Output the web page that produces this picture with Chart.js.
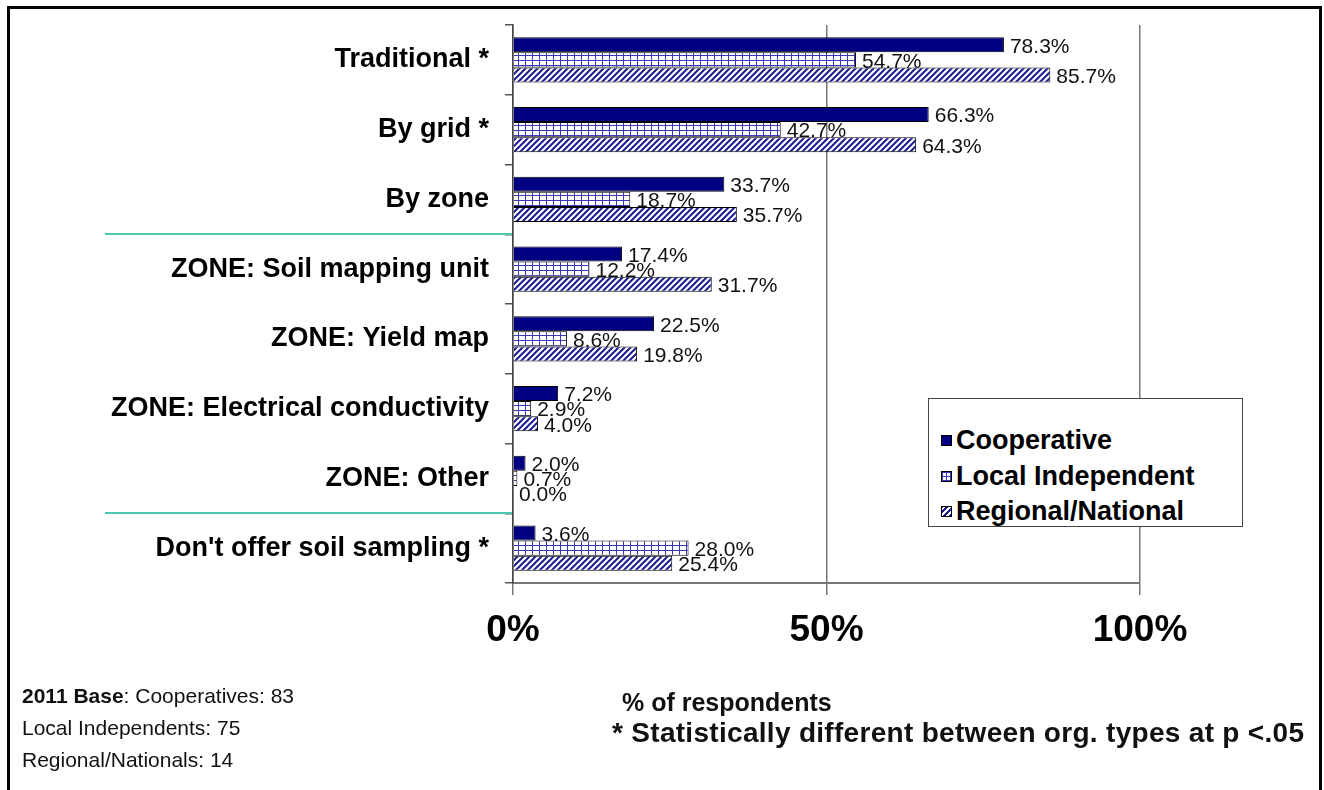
<!DOCTYPE html>
<html>
<head>
<meta charset="utf-8">
<script src="https://cdn.jsdelivr.net/npm/chart.js@4.4.1/dist/chart.umd.min.js"></script>
<style>
  html, body { margin: 0; padding: 0; background: #fff; }
  body { width: 1324px; height: 790px; position: relative; overflow: hidden; font-family: 'Liberation Sans', Arial, sans-serif; }
  #frame { position: absolute; left: 7px; top: 6px; width: 1315px; height: 900px; border: 3px solid #000; box-sizing: border-box; }
  #wrap { position: absolute; left: 0; top: 0; width: 1324px; height: 790px; }
  .note { position: absolute; color: #111; white-space: nowrap; }
  #legend { position: absolute; left: 928px; top: 398px; width: 315px; height: 129px; border: 1px solid #444; background: #fff; box-sizing: border-box; }
  .lg { position: absolute; left: 12px; font-weight: bold; font-size: 27px; color: #000; display: flex; align-items: center; line-height: 30px; }
  .sw { width: 11px; height: 11px; border: 1px solid #000; margin-right: 4px; box-sizing: border-box; }
</style>
</head>
<body>
<div id="frame"></div>
<div id="wrap"><canvas id="c" width="1324" height="790"></canvas></div>

<div id="legend">
  <div class="lg" style="top:26px"><span class="sw" style="background:#000080"></span>Cooperative</div>
  <div class="lg" style="top:62px"><span class="sw" id="swLocal"></span>Local Independent</div>
  <div class="lg" style="top:97px"><span class="sw" id="swReg"></span>Regional/National</div>
</div>

<div class="note" style="left:22px; top:684px; font-size:21px;"><b>2011 Base</b>: Cooperatives: 83</div>
<div class="note" style="left:22px; top:716px; font-size:21px;">Local Independents: 75</div>
<div class="note" style="left:22px; top:748px; font-size:21px;">Regional/Nationals: 14</div>
<div class="note" style="left:622px; top:688px; font-size:25px; font-weight:bold;">% of respondents</div>
<div class="note" style="left:612px; top:717px; font-size:28px; font-weight:bold; letter-spacing:0.3px;">* Statistically different between org. types at p &lt;.05</div>

<script>
// dữ liệu
const categories = [
  'Traditional *',
  'By grid *',
  'By zone',
  'ZONE: Soil mapping unit',
  'ZONE: Yield map',
  'ZONE: Electrical conductivity',
  'ZONE: Other',
  "Don't offer soil sampling *"
];
const cooperative      = [78.3, 66.3, 33.7, 17.4, 22.5, 7.2, 2.0, 3.6];
const localIndependent = [54.7, 42.7, 18.7, 12.2, 8.6, 2.9, 0.7, 28.0];
const regionalNational = [85.7, 64.3, 35.7, 31.7, 19.8, 4.0, 0.0, 25.4];
const xTicks = [0, 50, 100];
// ranh giới nhóm có đường kẻ xanh ngọc (sau danh mục thứ 3 và thứ 7)
const separatorAfter = [2, 6];

const FONT = "'Liberation Sans', Arial, sans-serif";

// mẫu ô lưới cho Local Independent
function makeGridPattern(ctx) {
  const p = document.createElement('canvas');
  p.width = 7; p.height = 5;
  const g = p.getContext('2d');
  g.fillStyle = '#fff'; g.fillRect(0, 0, 7, 5);
  g.fillStyle = '#3a3ab8';
  g.fillRect(0, 0, 1, 5);
  g.fillRect(0, 0, 7, 1);
  return ctx.createPattern(p, 'repeat');
}

// mẫu gạch chéo cho Regional/National
function makeHatchPattern(ctx) {
  const p = document.createElement('canvas');
  p.width = 6; p.height = 6;
  const g = p.getContext('2d');
  g.fillStyle = '#fff'; g.fillRect(0, 0, 6, 6);
  g.strokeStyle = '#1c1c90';
  g.lineWidth = 2;
  g.beginPath();
  g.moveTo(0, 6); g.lineTo(6, 0);
  g.moveTo(-1, 1); g.lineTo(1, -1);
  g.moveTo(5, 7); g.lineTo(7, 5);
  g.stroke();
  return ctx.createPattern(p, 'repeat');
}

const canvasElement = document.getElementById('c');
const ctx = canvasElement.getContext('2d');

// ô mẫu trong chú giải
document.getElementById('swLocal').style.background =
  'repeating-linear-gradient(90deg,#3a3ab8 0 1px,transparent 1px 4px), repeating-linear-gradient(0deg,#3a3ab8 0 1px,#fff 1px 4px)';
document.getElementById('swReg').style.background =
  'repeating-linear-gradient(-45deg,#1c1c90 0 2px,#fff 2px 4px)';

// nhãn giá trị ở cuối mỗi thanh
const valueLabels = {
  id: 'valueLabels',
  afterDatasetsDraw(chart) {
    const c = chart.ctx;
    c.save();
    c.font = '21px ' + FONT;
    c.fillStyle = '#111';
    c.textBaseline = 'middle';
    c.textAlign = 'left';
    chart.data.datasets.forEach((ds, i) => {
      chart.getDatasetMeta(i).data.forEach((bar, j) => {
        c.fillText(ds.data[j].toFixed(1) + '%', bar.x + 6, bar.y + 2);
      });
    });
    c.restore();
  }
};

// đường kẻ phân nhóm màu xanh ngọc bên trái trục
const separators = {
  id: 'separators',
  afterDraw(chart) {
    const y = chart.scales.y;
    const c = chart.ctx;
    const half = (y.getPixelForValue(1) - y.getPixelForValue(0)) / 2;
    c.save();
    c.strokeStyle = '#4cc7b4';
    c.lineWidth = 2;
    separatorAfter.forEach(idx => {
      const py = Math.round(y.getPixelForValue(idx) + half);
      c.beginPath();
      c.moveTo(105, py);
      c.lineTo(chart.chartArea.left - 1, py);
      c.stroke();
    });
    c.restore();
  }
};

new Chart(ctx, {
  type: 'bar',
  data: {
    labels: categories,
    datasets: [
      { label: 'Cooperative', data: cooperative, backgroundColor: '#000080', borderColor: '#000', borderWidth: 1 },
      { label: 'Local Independent', data: localIndependent, backgroundColor: makeGridPattern(ctx), borderColor: '#000', borderWidth: 1 },
      { label: 'Regional/National', data: regionalNational, backgroundColor: makeHatchPattern(ctx), borderColor: '#000', borderWidth: 1 }
    ]
  },
  options: {
    indexAxis: 'y',
    responsive: false,
    animation: false,
    datasets: { bar: { categoryPercentage: 0.65, barPercentage: 1.0 } },
    layout: { padding: { top: 25, right: 184, bottom: 127, left: 0 } },
    scales: {
      x: {
        min: 0,
        max: 100,
        afterBuildTicks(scale) { scale.ticks = xTicks.map(v => ({ value: v })); },
        afterFit(scale) { scale.height = 80; scale.paddingLeft = 0; scale.paddingRight = 0; },
        grid: { color: '#777', lineWidth: 1.5, tickLength: 12 },
        border: { color: '#777', width: 2 },
        ticks: {
          padding: 14,
          color: '#000',
          font: { family: FONT, size: 37, weight: 'bold' },
          callback: v => v + '%'
        }
      },
      y: {
        afterFit(scale) { scale.width = 513; scale.paddingTop = 0; scale.paddingBottom = 0; },
        grid: { drawOnChartArea: false, color: '#555', tickLength: 8, lineWidth: 1.5 },
        border: { color: '#444', width: 1.5 },
        ticks: {
          padding: 16,
          color: '#000',
          autoSkip: false,
          font: { family: FONT, size: 27, weight: 'bold' }
        }
      }
    },
    plugins: {
      legend: { display: false },
      tooltip: { enabled: false }
    }
  },
  plugins: [valueLabels, separators]
});
</script>
</body>
</html>
